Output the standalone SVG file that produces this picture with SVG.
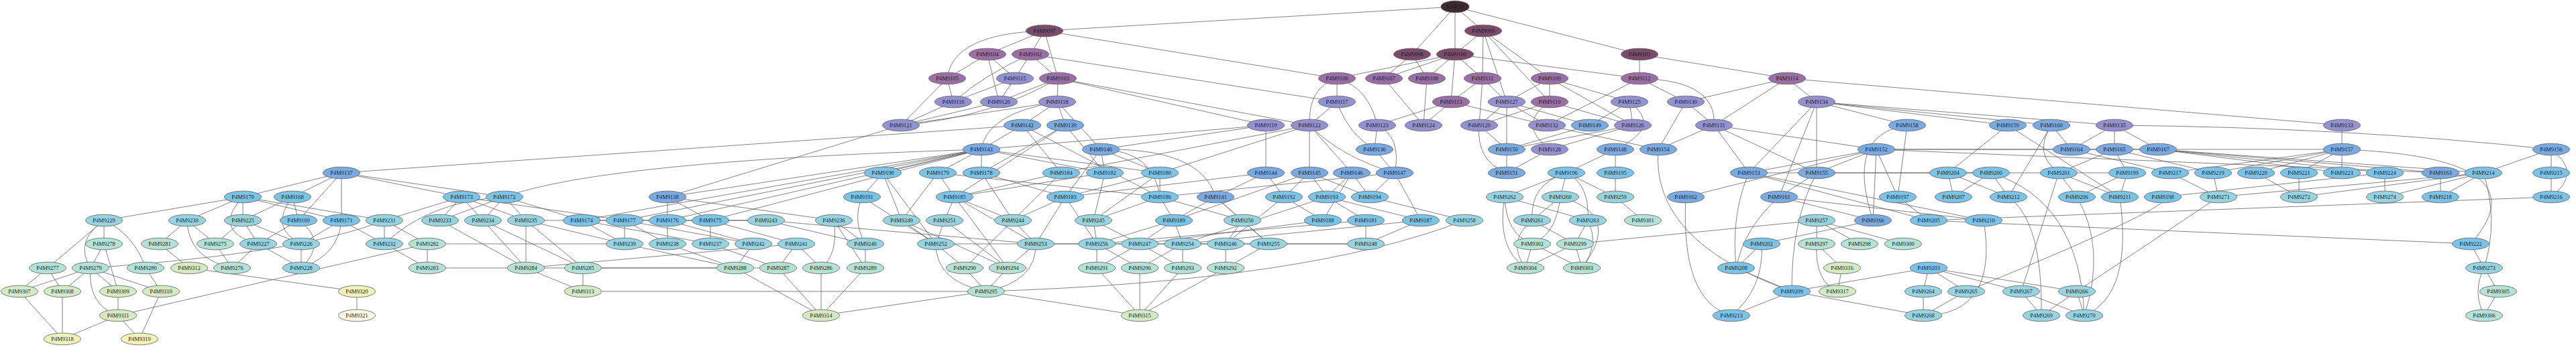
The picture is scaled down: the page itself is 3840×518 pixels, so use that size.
<svg xmlns="http://www.w3.org/2000/svg" width="3840" height="518" viewBox="0 0 3840 518">
<style>
.e line,.e path{stroke:#5a5a5a;stroke-width:0.75;fill:none}
.n ellipse{stroke:#5e5e5e;stroke-width:0.8}
.n text{font-family:"Liberation Serif","Times New Roman",serif;font-size:8.5px;text-anchor:middle;fill:#1c1c1c}
.c0 ellipse{fill:#3e2a31}.c1 ellipse{fill:#7b4b6b}.c2 ellipse{fill:#9a6fa5}.c3 ellipse{fill:#9391cf}.c4 ellipse{fill:#7aaae2}.c5 ellipse{fill:#7cc3e8}.c6 ellipse{fill:#98d4e0}.c7 ellipse{fill:#b5e2d6}.c8 ellipse{fill:#d4eac4}.c9 ellipse{fill:#f0f2ba}.c10 ellipse{fill:#fcfbe8}
</style>
<rect width="3840" height="518" fill="#ffffff"/>
<g id="edges" class="e">
<line x1="2169" y1="10" x2="1557" y2="46"/><line x1="2169" y1="10" x2="2105" y2="81"/><line x1="2169" y1="10" x2="2169" y2="81"/><line x1="2169" y1="10" x2="2211" y2="46"/><line x1="2169" y1="10" x2="2444" y2="81"/>
<line x1="1557" y1="46" x2="1472" y2="81"/><line x1="1557" y1="46" x2="1536" y2="81"/><line x1="1557" y1="46" x2="1577" y2="117"/><path d="M1557,46 Q1420,50 1412,117"/><line x1="1557" y1="46" x2="1993" y2="117"/>
<line x1="2211" y1="46" x2="2169" y2="81"/><line x1="2211" y1="46" x2="2210" y2="117"/><line x1="2211" y1="46" x2="2310" y2="117"/><line x1="2211" y1="46" x2="2310" y2="152"/><line x1="2211" y1="46" x2="2246" y2="152"/>
<line x1="2169" y1="81" x2="1993" y2="117"/><line x1="2169" y1="81" x2="2063" y2="117"/><line x1="2169" y1="81" x2="2127" y2="117"/><line x1="2169" y1="81" x2="2210" y2="117"/><line x1="2169" y1="81" x2="2163" y2="152"/><line x1="2169" y1="81" x2="2444" y2="117"/>
<line x1="2105" y1="81" x2="2063" y2="117"/><line x1="2105" y1="81" x2="2127" y2="117"/><line x1="2444" y1="81" x2="2444" y2="117"/><line x1="2444" y1="81" x2="2664" y2="117"/>
<line x1="1472" y1="81" x2="1412" y2="117"/><line x1="1472" y1="81" x2="1513" y2="117"/><line x1="1472" y1="81" x2="1489" y2="152"/>
<line x1="1536" y1="81" x2="1513" y2="117"/><line x1="1536" y1="81" x2="1577" y2="117"/><path d="M1536,81 Q1470,110 1421,152"/><line x1="1536" y1="81" x2="1993" y2="152"/>
<line x1="1412" y1="117" x2="1421" y2="152"/><line x1="1412" y1="117" x2="1343" y2="187"/><line x1="1513" y1="117" x2="1421" y2="152"/><line x1="1513" y1="117" x2="1489" y2="152"/>
<line x1="1577" y1="117" x2="1576" y2="152"/><line x1="1577" y1="117" x2="1489" y2="152"/><line x1="1577" y1="117" x2="1887" y2="187"/><line x1="1577" y1="117" x2="1952" y2="187"/><path d="M1577,117 Q1480,175 1343,187"/>
<line x1="1421" y1="152" x2="1343" y2="187"/><line x1="1489" y1="152" x2="1343" y2="187"/><line x1="1576" y1="152" x2="1343" y2="187"/>
<line x1="1993" y1="117" x2="1993" y2="152"/><path d="M1993,117 Q1950,130 1952,187"/><path d="M1993,117 Q2040,130 2053,187"/><line x1="1993" y1="152" x2="1952" y2="187"/><path d="M1993,152 Q2010,200 2049,223"/>
<line x1="2063" y1="117" x2="2122" y2="187"/><line x1="2127" y1="117" x2="2122" y2="187"/><line x1="2163" y1="152" x2="2053" y2="187"/><line x1="2163" y1="152" x2="2122" y2="187"/><line x1="2163" y1="152" x2="2306" y2="187"/>
<line x1="2210" y1="117" x2="2163" y2="152"/><line x1="2210" y1="117" x2="2205" y2="187"/><line x1="2210" y1="117" x2="2246" y2="152"/>
<line x1="2246" y1="152" x2="2205" y2="187"/><line x1="2246" y1="152" x2="2246" y2="223"/><line x1="2246" y1="152" x2="2370" y2="187"/><line x1="2246" y1="152" x2="2306" y2="187"/>
<line x1="2310" y1="117" x2="2310" y2="152"/><line x1="2310" y1="117" x2="2246" y2="152"/><line x1="2310" y1="117" x2="2429" y2="152"/><line x1="2310" y1="117" x2="2434" y2="187"/>
<line x1="2444" y1="117" x2="2306" y2="187"/><line x1="2444" y1="117" x2="2513" y2="152"/><path d="M2444,117 Q2560,120 2555,187"/>
<path d="M2310,152 Q2260,185 2310,223"/><line x1="2310" y1="152" x2="2434" y2="187"/><line x1="2310" y1="152" x2="2205" y2="187"/>
<line x1="2429" y1="152" x2="2370" y2="187"/><line x1="2429" y1="152" x2="2434" y2="187"/><path d="M2429,152 Q2480,190 2408,223"/>
<line x1="2513" y1="152" x2="2472" y2="223"/><line x1="2513" y1="152" x2="2555" y2="187"/><line x1="2664" y1="117" x2="2513" y2="152"/><line x1="2664" y1="117" x2="2555" y2="187"/><line x1="2664" y1="117" x2="2708" y2="152"/>
<line x1="2306" y1="187" x2="2472" y2="223"/><line x1="2370" y1="187" x2="2246" y2="223"/><line x1="2434" y1="187" x2="2246" y2="223"/><line x1="2434" y1="187" x2="2310" y2="223"/><line x1="2555" y1="187" x2="2472" y2="223"/>
<line x1="2205" y1="187" x2="2246" y2="223"/><path d="M2205,187 Q2200,240 2246,258"/><line x1="2246" y1="223" x2="2246" y2="258"/><line x1="2310" y1="223" x2="2246" y2="258"/>
<line x1="1952" y1="187" x2="1952" y2="258"/><line x1="1952" y1="187" x2="2015" y2="258"/><path d="M1952,187 Q2000,235 2079,258"/><line x1="2053" y1="187" x2="2049" y2="223"/><path d="M2053,187 Q2090,205 2079,258"/><line x1="2049" y1="223" x2="2079" y2="258"/>
<line x1="1576" y1="152" x2="1524" y2="187"/><line x1="1576" y1="152" x2="1588" y2="187"/><path d="M1576,152 Q1470,170 1463,223"/><line x1="1576" y1="152" x2="1641" y2="223"/>
<line x1="1343" y1="187" x2="995" y2="294"/><line x1="1887" y1="187" x2="1887" y2="258"/><line x1="1887" y1="187" x2="1641" y2="223"/><line x1="1887" y1="187" x2="1463" y2="223"/>
<line x1="1524" y1="187" x2="1463" y2="223"/><line x1="1524" y1="187" x2="1582" y2="258"/><line x1="1588" y1="187" x2="1463" y2="258"/><line x1="1588" y1="187" x2="1647" y2="258"/>
<line x1="1463" y1="223" x2="1463" y2="258"/><line x1="1463" y1="223" x2="1398" y2="258"/><line x1="1463" y1="223" x2="1316" y2="258"/><line x1="1463" y1="223" x2="995" y2="294"/><line x1="1463" y1="223" x2="995" y2="329"/><line x1="1463" y1="223" x2="1059" y2="329"/><line x1="1463" y1="223" x2="867" y2="329"/><line x1="1463" y1="223" x2="931" y2="329"/>
<line x1="1641" y1="223" x2="1647" y2="258"/><line x1="1641" y1="223" x2="1729" y2="258"/><path d="M1641,223 Q1720,225 1729,294"/><path d="M1641,223 Q1790,220 1812,294"/><line x1="1641" y1="223" x2="1588" y2="294"/>
<line x1="509" y1="258" x2="362" y2="294"/><line x1="509" y1="258" x2="436" y2="294"/><line x1="509" y1="258" x2="445" y2="329"/><line x1="509" y1="258" x2="509" y2="329"/><line x1="509" y1="258" x2="688" y2="294"/><line x1="509" y1="258" x2="752" y2="294"/><line x1="509" y1="258" x2="1524" y2="187"/>
<line x1="362" y1="294" x2="155" y2="329"/><line x1="362" y1="294" x2="279" y2="329"/><line x1="362" y1="294" x2="362" y2="329"/><path d="M362,294 Q315,345 385,364"/><line x1="362" y1="294" x2="509" y2="329"/><line x1="362" y1="294" x2="573" y2="329"/>
<line x1="436" y1="294" x2="362" y2="329"/><line x1="436" y1="294" x2="445" y2="329"/><path d="M436,294 Q400,340 449,364"/>
<line x1="362" y1="329" x2="321" y2="364"/><line x1="362" y1="329" x2="385" y2="364"/><line x1="362" y1="329" x2="449" y2="364"/><line x1="445" y1="329" x2="385" y2="364"/><path d="M445,329 Q490,360 449,400"/>
<line x1="509" y1="329" x2="449" y2="364"/><path d="M509,329 Q505,380 449,400"/><line x1="509" y1="329" x2="573" y2="364"/>
<line x1="573" y1="329" x2="573" y2="364"/><line x1="573" y1="329" x2="637" y2="364"/><line x1="573" y1="329" x2="688" y2="294"/><path d="M573,364 Q640,300 752,294"/><line x1="573" y1="364" x2="637" y2="400"/>
<line x1="155" y1="329" x2="155" y2="364"/><line x1="155" y1="329" x2="71" y2="400"/><path d="M155,329 Q110,360 135,400"/><path d="M155,329 Q200,350 217,400"/>
<line x1="279" y1="329" x2="238" y2="364"/><line x1="279" y1="329" x2="321" y2="364"/><path d="M279,329 Q280,385 346,400"/>
<line x1="155" y1="364" x2="135" y2="400"/><line x1="155" y1="364" x2="176" y2="435"/><path d="M135,400 Q450,378 573,329"/>
<line x1="71" y1="400" x2="29" y2="435"/><line x1="71" y1="400" x2="93" y2="435"/><line x1="135" y1="400" x2="29" y2="435"/><line x1="135" y1="400" x2="93" y2="435"/><line x1="135" y1="400" x2="176" y2="435"/><line x1="135" y1="400" x2="240" y2="435"/><path d="M135,400 Q130,455 176,471"/>
<line x1="217" y1="400" x2="240" y2="435"/><line x1="238" y1="364" x2="282" y2="400"/><line x1="282" y1="400" x2="532" y2="435"/>
<line x1="29" y1="435" x2="93" y2="506"/><line x1="93" y1="435" x2="93" y2="506"/><line x1="176" y1="435" x2="176" y2="471"/><line x1="240" y1="435" x2="208" y2="506"/><line x1="176" y1="471" x2="93" y2="506"/><line x1="176" y1="471" x2="208" y2="506"/><line x1="176" y1="471" x2="637" y2="364"/>
<line x1="321" y1="364" x2="346" y2="400"/><line x1="385" y1="364" x2="346" y2="400"/><line x1="385" y1="364" x2="449" y2="400"/><line x1="449" y1="364" x2="449" y2="400"/><line x1="637" y1="364" x2="637" y2="400"/><line x1="532" y1="435" x2="532" y2="471"/>
<line x1="688" y1="294" x2="656" y2="329"/><line x1="688" y1="294" x2="720" y2="329"/><line x1="688" y1="294" x2="784" y2="329"/><line x1="752" y1="294" x2="656" y2="329"/><line x1="752" y1="294" x2="720" y2="329"/><line x1="752" y1="294" x2="784" y2="329"/>
<line x1="656" y1="329" x2="784" y2="400"/><line x1="720" y1="329" x2="784" y2="400"/><line x1="720" y1="329" x2="869" y2="400"/><line x1="784" y1="329" x2="784" y2="400"/><line x1="784" y1="329" x2="869" y2="400"/>
<line x1="637" y1="364" x2="931" y2="364"/><line x1="637" y1="400" x2="1096" y2="400"/><line x1="784" y1="400" x2="1187" y2="364"/><line x1="869" y1="400" x2="1160" y2="400"/>
<line x1="784" y1="400" x2="869" y2="435"/><line x1="869" y1="400" x2="869" y2="435"/><line x1="869" y1="435" x2="1470" y2="435"/><line x1="1224" y1="471" x2="1470" y2="435"/>
<line x1="867" y1="329" x2="931" y2="364"/><line x1="931" y1="329" x2="931" y2="364"/><line x1="784" y1="329" x2="1142" y2="329"/>
<line x1="995" y1="294" x2="995" y2="329"/><line x1="995" y1="294" x2="1059" y2="329"/><line x1="995" y1="329" x2="995" y2="364"/><line x1="1059" y1="329" x2="1059" y2="364"/>
<line x1="995" y1="364" x2="1096" y2="400"/><line x1="1059" y1="364" x2="1160" y2="400"/><line x1="1123" y1="364" x2="1096" y2="400"/><line x1="1187" y1="364" x2="1160" y2="400"/><line x1="1187" y1="364" x2="1224" y2="400"/>
<path d="M1243,329 Q1250,380 1224,400"/><line x1="1243" y1="329" x2="1290" y2="400"/>
<line x1="1096" y1="400" x2="1224" y2="471"/><line x1="1160" y1="400" x2="1224" y2="471"/><line x1="1224" y1="400" x2="1224" y2="471"/><line x1="1290" y1="400" x2="1224" y2="471"/><line x1="1290" y1="364" x2="1290" y2="400"/>
<line x1="1316" y1="258" x2="1285" y2="294"/><line x1="1316" y1="258" x2="1344" y2="329"/><line x1="1316" y1="258" x2="1395" y2="364"/><line x1="1398" y1="258" x2="1423" y2="294"/><line x1="1398" y1="258" x2="1344" y2="329"/>
<line x1="1463" y1="258" x2="1510" y2="329"/><line x1="1582" y1="258" x2="1510" y2="329"/><line x1="1463" y1="258" x2="1588" y2="294"/>
<line x1="1423" y1="294" x2="1408" y2="329"/><line x1="1423" y1="294" x2="1510" y2="329"/><line x1="1423" y1="294" x2="1544" y2="364"/><line x1="1423" y1="294" x2="1502" y2="400"/>
<line x1="1588" y1="294" x2="1544" y2="364"/><line x1="1588" y1="294" x2="1510" y2="329"/>
<path d="M1285,294 Q1270,330 1290,364"/><line x1="1285" y1="294" x2="1395" y2="364"/>
<line x1="1344" y1="329" x2="1395" y2="364"/><line x1="1344" y1="329" x2="1502" y2="400"/><line x1="1408" y1="329" x2="1395" y2="364"/><line x1="1408" y1="329" x2="1502" y2="400"/>
<line x1="1510" y1="329" x2="1544" y2="364"/><line x1="1510" y1="329" x2="1438" y2="400"/><line x1="1395" y1="364" x2="1438" y2="400"/><path d="M1395,364 Q1395,420 1470,435"/>
<line x1="1544" y1="364" x2="1502" y2="400"/><path d="M1544,364 Q1545,420 1470,435"/><line x1="1438" y1="400" x2="1470" y2="435"/><line x1="1502" y1="400" x2="1470" y2="435"/>
<line x1="1470" y1="435" x2="1699" y2="471"/><path d="M1470,435 Q1950,420 2183,329"/>
<line x1="1887" y1="258" x2="1914" y2="294"/><line x1="1647" y1="258" x2="1630" y2="329"/><line x1="1729" y1="258" x2="1729" y2="294"/><line x1="1729" y1="258" x2="1630" y2="329"/>
<line x1="1729" y1="294" x2="1750" y2="329"/><line x1="1812" y1="294" x2="1750" y2="329"/><line x1="1750" y1="329" x2="1699" y2="364"/><line x1="1750" y1="329" x2="1763" y2="364"/><line x1="1750" y1="329" x2="1635" y2="364"/>
<line x1="1852" y1="329" x2="1827" y2="364"/><line x1="1852" y1="329" x2="1891" y2="364"/>
<line x1="1635" y1="364" x2="1635" y2="400"/><line x1="1635" y1="364" x2="1699" y2="400"/><line x1="1699" y1="364" x2="1635" y2="400"/><line x1="1699" y1="364" x2="1763" y2="400"/><line x1="1763" y1="364" x2="1763" y2="400"/><line x1="1763" y1="364" x2="1699" y2="400"/><line x1="1827" y1="364" x2="1827" y2="400"/><line x1="1891" y1="364" x2="1827" y2="400"/>
<line x1="1635" y1="400" x2="1699" y2="471"/><line x1="1699" y1="400" x2="1699" y2="471"/><line x1="1763" y1="400" x2="1699" y2="471"/><line x1="1827" y1="400" x2="1699" y2="471"/>
<line x1="1952" y1="258" x2="1978" y2="294"/><line x1="2015" y1="258" x2="1978" y2="294"/><line x1="2015" y1="258" x2="2042" y2="294"/><line x1="1952" y1="258" x2="2042" y2="294"/><line x1="2079" y1="258" x2="2042" y2="294"/>
<line x1="2042" y1="294" x2="2183" y2="329"/><line x1="1978" y1="294" x2="2118" y2="329"/><line x1="2036" y1="329" x2="2036" y2="364"/><line x1="2118" y1="329" x2="2036" y2="364"/><line x1="1914" y1="294" x2="1972" y2="329"/><line x1="1978" y1="294" x2="2036" y2="329"/>
<line x1="2408" y1="223" x2="2335" y2="258"/><line x1="2408" y1="223" x2="2408" y2="258"/>
<line x1="2335" y1="258" x2="2243" y2="294"/><line x1="2335" y1="258" x2="2326" y2="294"/><line x1="2335" y1="258" x2="2408" y2="294"/><path d="M2335,258 Q2280,275 2284,329"/><path d="M2335,258 Q2370,275 2367,329"/><line x1="2408" y1="258" x2="2408" y2="294"/>
<line x1="2243" y1="294" x2="2367" y2="329"/><path d="M2243,294 Q2245,350 2284,364"/><path d="M2243,294 Q2230,370 2274,400"/>
<line x1="2326" y1="294" x2="2284" y2="329"/><path d="M2326,294 Q2320,350 2284,364"/><path d="M2326,294 Q2420,320 2358,400"/><line x1="2408" y1="294" x2="2449" y2="329"/>
<line x1="2284" y1="329" x2="2348" y2="364"/><path d="M2284,329 Q2245,360 2274,400"/><line x1="2367" y1="329" x2="2348" y2="364"/><path d="M2367,329 Q2385,365 2358,400"/>
<line x1="2284" y1="364" x2="2274" y2="400"/><line x1="2284" y1="364" x2="2358" y2="400"/><line x1="2348" y1="364" x2="2274" y2="400"/><line x1="2348" y1="364" x2="2358" y2="400"/><line x1="2348" y1="364" x2="2708" y2="329"/>
<path d="M2513,294 Q2505,450 2581,471"/><path d="M2472,223 Q2460,360 2671,435"/><line x1="2513" y1="294" x2="2797" y2="223"/>
<line x1="2708" y1="152" x2="2607" y2="258"/><line x1="2708" y1="152" x2="2708" y2="258"/><line x1="2708" y1="152" x2="2652" y2="294"/><line x1="2708" y1="152" x2="3152" y2="187"/><line x1="2708" y1="152" x2="2993" y2="187"/><line x1="2708" y1="152" x2="3058" y2="187"/><line x1="2708" y1="152" x2="2843" y2="187"/>
<line x1="2555" y1="187" x2="2607" y2="258"/><line x1="2555" y1="187" x2="2708" y2="258"/><line x1="2555" y1="187" x2="2797" y2="223"/><line x1="2664" y1="117" x2="3491" y2="187"/>
<line x1="2843" y1="187" x2="2829" y2="294"/><path d="M2843,187 Q2750,200 2792,329"/>
<line x1="2797" y1="223" x2="2607" y2="258"/><line x1="2797" y1="223" x2="2708" y2="258"/><line x1="2797" y1="223" x2="2829" y2="294"/><line x1="2797" y1="223" x2="2792" y2="329"/><line x1="2797" y1="223" x2="3638" y2="258"/><line x1="2797" y1="223" x2="3491" y2="223"/><line x1="2797" y1="223" x2="3217" y2="223"/>
<path d="M2607,258 Q2580,320 2588,400"/><line x1="2607" y1="258" x2="2875" y2="329"/><line x1="2607" y1="258" x2="2968" y2="258"/><line x1="2607" y1="258" x2="2957" y2="329"/>
<line x1="2708" y1="258" x2="2652" y2="294"/><path d="M2708,258 Q2670,330 2671,435"/><line x1="2708" y1="258" x2="3171" y2="258"/>
<path d="M2652,294 Q2600,340 2588,400"/><line x1="2652" y1="294" x2="2792" y2="329"/><line x1="2652" y1="294" x2="2957" y2="329"/>
<line x1="2708" y1="329" x2="2708" y2="364"/><line x1="2708" y1="329" x2="2772" y2="364"/><line x1="2708" y1="329" x2="2837" y2="364"/><line x1="2708" y1="364" x2="2746" y2="400"/><path d="M2708,364 Q2705,420 2739,435"/><line x1="2746" y1="400" x2="2739" y2="435"/>
<line x1="2626" y1="364" x2="2588" y2="400"/><path d="M2626,364 Q2630,430 2581,471"/><line x1="2626" y1="364" x2="2792" y2="329"/>
<line x1="2588" y1="400" x2="2671" y2="435"/><line x1="2671" y1="435" x2="2581" y2="471"/><line x1="2671" y1="435" x2="2875" y2="400"/><line x1="2671" y1="435" x2="2867" y2="471"/>
<line x1="2829" y1="294" x2="2875" y2="329"/><line x1="2875" y1="400" x2="2867" y2="435"/><line x1="2867" y1="435" x2="2867" y2="471"/>
<line x1="2993" y1="187" x2="2904" y2="258"/><line x1="2993" y1="187" x2="3160" y2="294"/><line x1="3058" y1="187" x2="2994" y2="294"/><path d="M3058,187 Q3030,230 3069,258"/><line x1="3058" y1="187" x2="3088" y2="223"/>
<line x1="3152" y1="187" x2="3152" y2="223"/><line x1="3152" y1="187" x2="3088" y2="223"/><line x1="3152" y1="187" x2="3217" y2="223"/><line x1="3152" y1="223" x2="3171" y2="258"/><line x1="3152" y1="223" x2="3069" y2="258"/><line x1="3152" y1="223" x2="3299" y2="258"/><line x1="3088" y1="223" x2="3235" y2="258"/>
<line x1="2904" y1="258" x2="2912" y2="294"/><line x1="2904" y1="258" x2="2994" y2="294"/><line x1="2968" y1="258" x2="2912" y2="294"/><line x1="2968" y1="258" x2="2994" y2="294"/><path d="M2968,258 Q3100,300 3107,471"/>
<line x1="3069" y1="258" x2="3096" y2="294"/><line x1="3069" y1="258" x2="3160" y2="294"/><line x1="3069" y1="258" x2="3013" y2="435"/><line x1="3171" y1="258" x2="3096" y2="294"/><line x1="3171" y1="258" x2="3160" y2="294"/>
<path d="M2994,294 Q3045,330 3043,471"/><path d="M3096,294 Q3140,370 3107,471"/><path d="M3160,294 Q3180,440 3107,471"/><path d="M2957,329 Q2980,470 2867,471"/>
<line x1="2875" y1="400" x2="2931" y2="435"/><line x1="2875" y1="400" x2="3013" y2="435"/><line x1="2875" y1="400" x2="3096" y2="435"/><line x1="2931" y1="435" x2="2867" y2="471"/><path d="M2931,435 Q3260,300 3224,294"/>
<line x1="3013" y1="435" x2="3043" y2="471"/><line x1="3013" y1="435" x2="3107" y2="471"/><line x1="3096" y1="435" x2="3043" y2="471"/><line x1="3096" y1="435" x2="3107" y2="471"/><line x1="3096" y1="435" x2="3307" y2="294"/>
<line x1="3491" y1="187" x2="3491" y2="223"/><line x1="3491" y1="223" x2="3235" y2="258"/><line x1="3491" y1="223" x2="3299" y2="258"/><line x1="3491" y1="223" x2="3363" y2="258"/><line x1="3491" y1="223" x2="3427" y2="258"/><line x1="3491" y1="223" x2="3491" y2="258"/>
<line x1="3217" y1="223" x2="3491" y2="258"/><line x1="3217" y1="223" x2="3555" y2="258"/><line x1="3217" y1="223" x2="3638" y2="258"/><line x1="3217" y1="223" x2="3702" y2="258"/>
<line x1="3235" y1="258" x2="3307" y2="294"/><line x1="3299" y1="258" x2="3307" y2="294"/><line x1="3363" y1="258" x2="3427" y2="294"/><line x1="3427" y1="258" x2="3427" y2="294"/><line x1="3224" y1="294" x2="3555" y2="258"/>
<line x1="3803" y1="223" x2="3803" y2="258"/><path d="M3803,223 Q3850,258 3803,294"/><line x1="3803" y1="223" x2="3702" y2="258"/><path d="M3803,223 Q3500,190 3152,187"/><line x1="3803" y1="258" x2="3803" y2="294"/>
<line x1="3555" y1="258" x2="3555" y2="294"/><line x1="3638" y1="258" x2="3638" y2="294"/><line x1="3702" y1="258" x2="3638" y2="294"/><line x1="3702" y1="258" x2="3555" y2="294"/><path d="M3702,258 Q3725,330 3703,400"/>
<line x1="3803" y1="294" x2="2875" y2="329"/><line x1="3683" y1="364" x2="3703" y2="400"/><line x1="3683" y1="364" x2="2875" y2="329"/><path d="M3683,364 C3740,300 3740,232 3491,223"/>
<line x1="3703" y1="400" x2="3724" y2="435"/><path d="M3703,400 Q3685,435 3703,471"/><line x1="3724" y1="435" x2="3703" y2="471"/>
<line x1="3307" y1="294" x2="3702" y2="258"/><line x1="3427" y1="294" x2="3702" y2="258"/>
<line x1="867" y1="329" x2="1142" y2="329"/><line x1="867" y1="329" x2="1059" y2="364"/><line x1="931" y1="329" x2="995" y2="364"/><line x1="931" y1="329" x2="1123" y2="364"/><line x1="995" y1="329" x2="1123" y2="364"/><line x1="1059" y1="329" x2="1187" y2="364"/>
<line x1="1142" y1="329" x2="1544" y2="364"/><line x1="1142" y1="329" x2="1290" y2="364"/><line x1="1243" y1="329" x2="1290" y2="364"/><line x1="995" y1="294" x2="1243" y2="329"/>
<line x1="1398" y1="258" x2="1729" y2="294"/><line x1="1582" y1="258" x2="1423" y2="294"/><line x1="1647" y1="258" x2="1423" y2="294"/><line x1="1729" y1="258" x2="1588" y2="294"/><line x1="1729" y1="294" x2="1630" y2="329"/>
<line x1="1812" y1="294" x2="1852" y2="329"/><line x1="1812" y1="294" x2="1891" y2="364"/><line x1="1729" y1="294" x2="1852" y2="329"/><line x1="1588" y1="294" x2="1635" y2="364"/><line x1="1630" y1="329" x2="1635" y2="364"/><line x1="1630" y1="329" x2="1699" y2="364"/>
<line x1="1914" y1="294" x2="1827" y2="364"/><line x1="1978" y1="294" x2="1763" y2="364"/><line x1="1972" y1="329" x2="1699" y2="364"/><line x1="2036" y1="329" x2="1635" y2="364"/><line x1="2118" y1="329" x2="1763" y2="364"/><line x1="2036" y1="364" x2="1544" y2="364"/><line x1="2036" y1="364" x2="1395" y2="364"/>
<line x1="1952" y1="258" x2="1750" y2="329"/><line x1="2079" y1="258" x2="1729" y2="294"/><line x1="2015" y1="258" x2="1972" y2="329"/><line x1="1952" y1="258" x2="1914" y2="294"/><line x1="2079" y1="258" x2="2118" y2="329"/>
<line x1="1952" y1="187" x2="1582" y2="258"/><line x1="1952" y1="187" x2="1729" y2="258"/><line x1="1887" y1="258" x2="1812" y2="294"/><line x1="1887" y1="258" x2="1588" y2="294"/><line x1="1524" y1="187" x2="1729" y2="294"/><line x1="1588" y1="187" x2="1423" y2="294"/>
<line x1="1463" y1="223" x2="1647" y2="258"/><line x1="1463" y1="223" x2="1729" y2="258"/><path d="M752,294 Q900,240 1463,223"/><line x1="688" y1="294" x2="931" y2="329"/><line x1="752" y1="294" x2="867" y2="329"/><line x1="784" y1="329" x2="931" y2="364"/><line x1="931" y1="364" x2="1096" y2="400"/>
</g>
<g id="KNP59" class="n c0"><ellipse cx="2169" cy="10" rx="21" ry="8.8"/><text x="2169" y="13">KNP59</text></g>
<g id="P4M9097" class="n c1"><ellipse cx="1557" cy="46" rx="27.5" ry="8.8"/><text x="1557" y="49">P4M9097</text></g>
<g id="P4M9099" class="n c1"><ellipse cx="2211" cy="46" rx="27.5" ry="8.8"/><text x="2211" y="49">P4M9099</text></g>
<g id="P4M9098" class="n c1"><ellipse cx="2105" cy="81" rx="27.5" ry="8.8"/><text x="2105" y="84">P4M9098</text></g>
<g id="P4M9100" class="n c1"><ellipse cx="2169" cy="81" rx="27.5" ry="8.8"/><text x="2169" y="84">P4M9100</text></g>
<g id="P4M9101" class="n c1"><ellipse cx="2444" cy="81" rx="27.5" ry="8.8"/><text x="2444" y="84">P4M9101</text></g>
<g id="P4M9104" class="n c2"><ellipse cx="1472" cy="81" rx="27.5" ry="8.8"/><text x="1472" y="84">P4M9104</text></g>
<g id="P4M9102" class="n c2"><ellipse cx="1536" cy="81" rx="27.5" ry="8.8"/><text x="1536" y="84">P4M9102</text></g>
<g id="P4M9105" class="n c2"><ellipse cx="1412" cy="117" rx="27.5" ry="8.8"/><text x="1412" y="120">P4M9105</text></g>
<g id="P4M9103" class="n c2"><ellipse cx="1577" cy="117" rx="27.5" ry="8.8"/><text x="1577" y="120">P4M9103</text></g>
<g id="P4M9106" class="n c2"><ellipse cx="1993" cy="117" rx="27.5" ry="8.8"/><text x="1993" y="120">P4M9106</text></g>
<g id="P4M9107" class="n c2"><ellipse cx="2063" cy="117" rx="27.5" ry="8.8"/><text x="2063" y="120">P4M9107</text></g>
<g id="P4M9108" class="n c2"><ellipse cx="2127" cy="117" rx="27.5" ry="8.8"/><text x="2127" y="120">P4M9108</text></g>
<g id="P4M9111" class="n c2"><ellipse cx="2210" cy="117" rx="27.5" ry="8.8"/><text x="2210" y="120">P4M9111</text></g>
<g id="P4M9109" class="n c2"><ellipse cx="2310" cy="117" rx="27.5" ry="8.8"/><text x="2310" y="120">P4M9109</text></g>
<g id="P4M9112" class="n c2"><ellipse cx="2444" cy="117" rx="27.5" ry="8.8"/><text x="2444" y="120">P4M9112</text></g>
<g id="P4M9114" class="n c2"><ellipse cx="2664" cy="117" rx="27.5" ry="8.8"/><text x="2664" y="120">P4M9114</text></g>
<g id="P4M9113" class="n c2"><ellipse cx="2163" cy="152" rx="27.5" ry="8.8"/><text x="2163" y="155">P4M9113</text></g>
<g id="P4M9110" class="n c2"><ellipse cx="2310" cy="152" rx="27.5" ry="8.8"/><text x="2310" y="155">P4M9110</text></g>
<g id="P4M9115" class="n c3"><ellipse cx="1513" cy="117" rx="27.5" ry="8.8"/><text x="1513" y="120">P4M9115</text></g>
<g id="P4M9116" class="n c3"><ellipse cx="1421" cy="152" rx="27.5" ry="8.8"/><text x="1421" y="155">P4M9116</text></g>
<g id="P4M9120" class="n c3"><ellipse cx="1489" cy="152" rx="27.5" ry="8.8"/><text x="1489" y="155">P4M9120</text></g>
<g id="P4M9118" class="n c3"><ellipse cx="1576" cy="152" rx="27.5" ry="8.8"/><text x="1576" y="155">P4M9118</text></g>
<g id="P4M9117" class="n c3"><ellipse cx="1993" cy="152" rx="27.5" ry="8.8"/><text x="1993" y="155">P4M9117</text></g>
<g id="P4M9127" class="n c3"><ellipse cx="2246" cy="152" rx="27.5" ry="8.8"/><text x="2246" y="155">P4M9127</text></g>
<g id="P4M9125" class="n c3"><ellipse cx="2429" cy="152" rx="27.5" ry="8.8"/><text x="2429" y="155">P4M9125</text></g>
<g id="P4M9130" class="n c3"><ellipse cx="2513" cy="152" rx="27.5" ry="8.8"/><text x="2513" y="155">P4M9130</text></g>
<g id="P4M9134" class="n c3"><ellipse cx="2708" cy="152" rx="27.5" ry="8.8"/><text x="2708" y="155">P4M9134</text></g>
<g id="P4M9121" class="n c3"><ellipse cx="1343" cy="187" rx="27.5" ry="8.8"/><text x="1343" y="190">P4M9121</text></g>
<g id="P4M9119" class="n c3"><ellipse cx="1887" cy="187" rx="27.5" ry="8.8"/><text x="1887" y="190">P4M9119</text></g>
<g id="P4M9122" class="n c3"><ellipse cx="1952" cy="187" rx="27.5" ry="8.8"/><text x="1952" y="190">P4M9122</text></g>
<g id="P4M9123" class="n c3"><ellipse cx="2053" cy="187" rx="27.5" ry="8.8"/><text x="2053" y="190">P4M9123</text></g>
<g id="P4M9124" class="n c3"><ellipse cx="2122" cy="187" rx="27.5" ry="8.8"/><text x="2122" y="190">P4M9124</text></g>
<g id="P4M9129" class="n c3"><ellipse cx="2205" cy="187" rx="27.5" ry="8.8"/><text x="2205" y="190">P4M9129</text></g>
<g id="P4M9132" class="n c3"><ellipse cx="2306" cy="187" rx="27.5" ry="8.8"/><text x="2306" y="190">P4M9132</text></g>
<g id="P4M9126" class="n c3"><ellipse cx="2434" cy="187" rx="27.5" ry="8.8"/><text x="2434" y="190">P4M9126</text></g>
<g id="P4M9131" class="n c3"><ellipse cx="2555" cy="187" rx="27.5" ry="8.8"/><text x="2555" y="190">P4M9131</text></g>
<g id="P4M9128" class="n c3"><ellipse cx="2310" cy="223" rx="27.5" ry="8.8"/><text x="2310" y="226">P4M9128</text></g>
<g id="P4M9135" class="n c3"><ellipse cx="3152" cy="187" rx="27.5" ry="8.8"/><text x="3152" y="190">P4M9135</text></g>
<g id="P4M9133" class="n c3"><ellipse cx="3491" cy="187" rx="27.5" ry="8.8"/><text x="3491" y="190">P4M9133</text></g>
<g id="P4M9142" class="n c4"><ellipse cx="1524" cy="187" rx="27.5" ry="8.8"/><text x="1524" y="190">P4M9142</text></g>
<g id="P4M9139" class="n c4"><ellipse cx="1588" cy="187" rx="27.5" ry="8.8"/><text x="1588" y="190">P4M9139</text></g>
<g id="P4M9149" class="n c4"><ellipse cx="2370" cy="187" rx="27.5" ry="8.8"/><text x="2370" y="190">P4M9149</text></g>
<g id="P4M9158" class="n c4"><ellipse cx="2843" cy="187" rx="27.5" ry="8.8"/><text x="2843" y="190">P4M9158</text></g>
<g id="P4M9159" class="n c4"><ellipse cx="2993" cy="187" rx="27.5" ry="8.8"/><text x="2993" y="190">P4M9159</text></g>
<g id="P4M9160" class="n c4"><ellipse cx="3058" cy="187" rx="27.5" ry="8.8"/><text x="3058" y="190">P4M9160</text></g>
<g id="P4M9143" class="n c4"><ellipse cx="1463" cy="223" rx="27.5" ry="8.8"/><text x="1463" y="226">P4M9143</text></g>
<g id="P4M9140" class="n c4"><ellipse cx="1641" cy="223" rx="27.5" ry="8.8"/><text x="1641" y="226">P4M9140</text></g>
<g id="P4M9136" class="n c4"><ellipse cx="2049" cy="223" rx="27.5" ry="8.8"/><text x="2049" y="226">P4M9136</text></g>
<g id="P4M9150" class="n c4"><ellipse cx="2246" cy="223" rx="27.5" ry="8.8"/><text x="2246" y="226">P4M9150</text></g>
<g id="P4M9148" class="n c4"><ellipse cx="2408" cy="223" rx="27.5" ry="8.8"/><text x="2408" y="226">P4M9148</text></g>
<g id="P4M9154" class="n c4"><ellipse cx="2472" cy="223" rx="27.5" ry="8.8"/><text x="2472" y="226">P4M9154</text></g>
<g id="P4M9152" class="n c4"><ellipse cx="2797" cy="223" rx="27.5" ry="8.8"/><text x="2797" y="226">P4M9152</text></g>
<g id="P4M9164" class="n c4"><ellipse cx="3088" cy="223" rx="27.5" ry="8.8"/><text x="3088" y="226">P4M9164</text></g>
<g id="P4M9165" class="n c4"><ellipse cx="3152" cy="223" rx="27.5" ry="8.8"/><text x="3152" y="226">P4M9165</text></g>
<g id="P4M9167" class="n c4"><ellipse cx="3217" cy="223" rx="27.5" ry="8.8"/><text x="3217" y="226">P4M9167</text></g>
<g id="P4M9157" class="n c4"><ellipse cx="3491" cy="223" rx="27.5" ry="8.8"/><text x="3491" y="226">P4M9157</text></g>
<g id="P4M9156" class="n c4"><ellipse cx="3803" cy="223" rx="27.5" ry="8.8"/><text x="3803" y="226">P4M9156</text></g>
<g id="P4M9137" class="n c4"><ellipse cx="509" cy="258" rx="27.5" ry="8.8"/><text x="509" y="261">P4M9137</text></g>
<g id="P4M9144" class="n c4"><ellipse cx="1887" cy="258" rx="27.5" ry="8.8"/><text x="1887" y="261">P4M9144</text></g>
<g id="P4M9145" class="n c4"><ellipse cx="1952" cy="258" rx="27.5" ry="8.8"/><text x="1952" y="261">P4M9145</text></g>
<g id="P4M9146" class="n c4"><ellipse cx="2015" cy="258" rx="27.5" ry="8.8"/><text x="2015" y="261">P4M9146</text></g>
<g id="P4M9147" class="n c4"><ellipse cx="2079" cy="258" rx="27.5" ry="8.8"/><text x="2079" y="261">P4M9147</text></g>
<g id="P4M9151" class="n c4"><ellipse cx="2246" cy="258" rx="27.5" ry="8.8"/><text x="2246" y="261">P4M9151</text></g>
<g id="P4M9153" class="n c4"><ellipse cx="2607" cy="258" rx="27.5" ry="8.8"/><text x="2607" y="261">P4M9153</text></g>
<g id="P4M9155" class="n c4"><ellipse cx="2708" cy="258" rx="27.5" ry="8.8"/><text x="2708" y="261">P4M9155</text></g>
<g id="P4M9163" class="n c4"><ellipse cx="3638" cy="258" rx="27.5" ry="8.8"/><text x="3638" y="261">P4M9163</text></g>
<g id="P4M9138" class="n c4"><ellipse cx="995" cy="294" rx="27.5" ry="8.8"/><text x="995" y="297">P4M9138</text></g>
<g id="P4M9141" class="n c4"><ellipse cx="1812" cy="294" rx="27.5" ry="8.8"/><text x="1812" y="297">P4M9141</text></g>
<g id="P4M9162" class="n c4"><ellipse cx="2513" cy="294" rx="27.5" ry="8.8"/><text x="2513" y="297">P4M9162</text></g>
<g id="P4M9161" class="n c4"><ellipse cx="2652" cy="294" rx="27.5" ry="8.8"/><text x="2652" y="297">P4M9161</text></g>
<g id="P4M9166" class="n c4"><ellipse cx="2792" cy="329" rx="27.5" ry="8.8"/><text x="2792" y="332">P4M9166</text></g>
<g id="P4M9170" class="n c5"><ellipse cx="362" cy="294" rx="27.5" ry="8.8"/><text x="362" y="297">P4M9170</text></g>
<g id="P4M9168" class="n c5"><ellipse cx="436" cy="294" rx="27.5" ry="8.8"/><text x="436" y="297">P4M9168</text></g>
<g id="P4M9173" class="n c5"><ellipse cx="688" cy="294" rx="27.5" ry="8.8"/><text x="688" y="297">P4M9173</text></g>
<g id="P4M9172" class="n c5"><ellipse cx="752" cy="294" rx="27.5" ry="8.8"/><text x="752" y="297">P4M9172</text></g>
<g id="P4M9191" class="n c5"><ellipse cx="1285" cy="294" rx="27.5" ry="8.8"/><text x="1285" y="297">P4M9191</text></g>
<g id="P4M9185" class="n c5"><ellipse cx="1423" cy="294" rx="27.5" ry="8.8"/><text x="1423" y="297">P4M9185</text></g>
<g id="P4M9183" class="n c5"><ellipse cx="1588" cy="294" rx="27.5" ry="8.8"/><text x="1588" y="297">P4M9183</text></g>
<g id="P4M9186" class="n c5"><ellipse cx="1729" cy="294" rx="27.5" ry="8.8"/><text x="1729" y="297">P4M9186</text></g>
<g id="P4M9192" class="n c5"><ellipse cx="1914" cy="294" rx="27.5" ry="8.8"/><text x="1914" y="297">P4M9192</text></g>
<g id="P4M9193" class="n c5"><ellipse cx="1978" cy="294" rx="27.5" ry="8.8"/><text x="1978" y="297">P4M9193</text></g>
<g id="P4M9194" class="n c5"><ellipse cx="2042" cy="294" rx="27.5" ry="8.8"/><text x="2042" y="297">P4M9194</text></g>
<g id="P4M9197" class="n c5"><ellipse cx="2829" cy="294" rx="27.5" ry="8.8"/><text x="2829" y="297">P4M9197</text></g>
<g id="P4M9207" class="n c5"><ellipse cx="2912" cy="294" rx="27.5" ry="8.8"/><text x="2912" y="297">P4M9207</text></g>
<g id="P4M9212" class="n c5"><ellipse cx="2994" cy="294" rx="27.5" ry="8.8"/><text x="2994" y="297">P4M9212</text></g>
<g id="P4M9206" class="n c5"><ellipse cx="3096" cy="294" rx="27.5" ry="8.8"/><text x="3096" y="297">P4M9206</text></g>
<g id="P4M9211" class="n c5"><ellipse cx="3160" cy="294" rx="27.5" ry="8.8"/><text x="3160" y="297">P4M9211</text></g>
<g id="P4M9198" class="n c5"><ellipse cx="3224" cy="294" rx="27.5" ry="8.8"/><text x="3224" y="297">P4M9198</text></g>
<g id="P4M9218" class="n c5"><ellipse cx="3638" cy="294" rx="27.5" ry="8.8"/><text x="3638" y="297">P4M9218</text></g>
<g id="P4M9216" class="n c5"><ellipse cx="3803" cy="294" rx="27.5" ry="8.8"/><text x="3803" y="297">P4M9216</text></g>
<g id="P4M9190" class="n c5"><ellipse cx="1316" cy="258" rx="27.5" ry="8.8"/><text x="1316" y="261">P4M9190</text></g>
<g id="P4M9179" class="n c5"><ellipse cx="1398" cy="258" rx="27.5" ry="8.8"/><text x="1398" y="261">P4M9179</text></g>
<g id="P4M9178" class="n c5"><ellipse cx="1463" cy="258" rx="27.5" ry="8.8"/><text x="1463" y="261">P4M9178</text></g>
<g id="P4M9184" class="n c5"><ellipse cx="1582" cy="258" rx="27.5" ry="8.8"/><text x="1582" y="261">P4M9184</text></g>
<g id="P4M9182" class="n c5"><ellipse cx="1647" cy="258" rx="27.5" ry="8.8"/><text x="1647" y="261">P4M9182</text></g>
<g id="P4M9180" class="n c5"><ellipse cx="1729" cy="258" rx="27.5" ry="8.8"/><text x="1729" y="261">P4M9180</text></g>
<g id="P4M9196" class="n c5"><ellipse cx="2335" cy="258" rx="27.5" ry="8.8"/><text x="2335" y="261">P4M9196</text></g>
<g id="P4M9195" class="n c5"><ellipse cx="2408" cy="258" rx="27.5" ry="8.8"/><text x="2408" y="261">P4M9195</text></g>
<g id="P4M9204" class="n c5"><ellipse cx="2904" cy="258" rx="27.5" ry="8.8"/><text x="2904" y="261">P4M9204</text></g>
<g id="P4M9200" class="n c5"><ellipse cx="2968" cy="258" rx="27.5" ry="8.8"/><text x="2968" y="261">P4M9200</text></g>
<g id="P4M9201" class="n c5"><ellipse cx="3069" cy="258" rx="27.5" ry="8.8"/><text x="3069" y="261">P4M9201</text></g>
<g id="P4M9199" class="n c5"><ellipse cx="3171" cy="258" rx="27.5" ry="8.8"/><text x="3171" y="261">P4M9199</text></g>
<g id="P4M9217" class="n c5"><ellipse cx="3235" cy="258" rx="27.5" ry="8.8"/><text x="3235" y="261">P4M9217</text></g>
<g id="P4M9219" class="n c5"><ellipse cx="3299" cy="258" rx="27.5" ry="8.8"/><text x="3299" y="261">P4M9219</text></g>
<g id="P4M9220" class="n c5"><ellipse cx="3363" cy="258" rx="27.5" ry="8.8"/><text x="3363" y="261">P4M9220</text></g>
<g id="P4M9221" class="n c5"><ellipse cx="3427" cy="258" rx="27.5" ry="8.8"/><text x="3427" y="261">P4M9221</text></g>
<g id="P4M9223" class="n c5"><ellipse cx="3491" cy="258" rx="27.5" ry="8.8"/><text x="3491" y="261">P4M9223</text></g>
<g id="P4M9224" class="n c5"><ellipse cx="3555" cy="258" rx="27.5" ry="8.8"/><text x="3555" y="261">P4M9224</text></g>
<g id="P4M9214" class="n c5"><ellipse cx="3702" cy="258" rx="27.5" ry="8.8"/><text x="3702" y="261">P4M9214</text></g>
<g id="P4M9215" class="n c5"><ellipse cx="3803" cy="258" rx="27.5" ry="8.8"/><text x="3803" y="261">P4M9215</text></g>
<g id="P4M9169" class="n c5"><ellipse cx="445" cy="329" rx="27.5" ry="8.8"/><text x="445" y="332">P4M9169</text></g>
<g id="P4M9171" class="n c5"><ellipse cx="509" cy="329" rx="27.5" ry="8.8"/><text x="509" y="332">P4M9171</text></g>
<g id="P4M9174" class="n c5"><ellipse cx="867" cy="329" rx="27.5" ry="8.8"/><text x="867" y="332">P4M9174</text></g>
<g id="P4M9177" class="n c5"><ellipse cx="931" cy="329" rx="27.5" ry="8.8"/><text x="931" y="332">P4M9177</text></g>
<g id="P4M9176" class="n c5"><ellipse cx="995" cy="329" rx="27.5" ry="8.8"/><text x="995" y="332">P4M9176</text></g>
<g id="P4M9175" class="n c5"><ellipse cx="1059" cy="329" rx="27.5" ry="8.8"/><text x="1059" y="332">P4M9175</text></g>
<g id="P4M9189" class="n c5"><ellipse cx="1750" cy="329" rx="27.5" ry="8.8"/><text x="1750" y="332">P4M9189</text></g>
<g id="P4M9188" class="n c5"><ellipse cx="1972" cy="329" rx="27.5" ry="8.8"/><text x="1972" y="332">P4M9188</text></g>
<g id="P4M9181" class="n c5"><ellipse cx="2036" cy="329" rx="27.5" ry="8.8"/><text x="2036" y="332">P4M9181</text></g>
<g id="P4M9187" class="n c5"><ellipse cx="2118" cy="329" rx="27.5" ry="8.8"/><text x="2118" y="332">P4M9187</text></g>
<g id="P4M9205" class="n c5"><ellipse cx="2875" cy="329" rx="27.5" ry="8.8"/><text x="2875" y="332">P4M9205</text></g>
<g id="P4M9210" class="n c5"><ellipse cx="2957" cy="329" rx="27.5" ry="8.8"/><text x="2957" y="332">P4M9210</text></g>
<g id="P4M9202" class="n c5"><ellipse cx="2626" cy="364" rx="27.5" ry="8.8"/><text x="2626" y="367">P4M9202</text></g>
<g id="P4M9222" class="n c5"><ellipse cx="3683" cy="364" rx="27.5" ry="8.8"/><text x="3683" y="367">P4M9222</text></g>
<g id="P4M9208" class="n c5"><ellipse cx="2588" cy="400" rx="27.5" ry="8.8"/><text x="2588" y="403">P4M9208</text></g>
<g id="P4M9203" class="n c5"><ellipse cx="2875" cy="400" rx="27.5" ry="8.8"/><text x="2875" y="403">P4M9203</text></g>
<g id="P4M9209" class="n c5"><ellipse cx="2671" cy="435" rx="27.5" ry="8.8"/><text x="2671" y="438">P4M9209</text></g>
<g id="P4M9213" class="n c5"><ellipse cx="2581" cy="471" rx="27.5" ry="8.8"/><text x="2581" y="474">P4M9213</text></g>
<g id="P4M9229" class="n c6"><ellipse cx="155" cy="329" rx="27.5" ry="8.8"/><text x="155" y="332">P4M9229</text></g>
<g id="P4M9230" class="n c6"><ellipse cx="279" cy="329" rx="27.5" ry="8.8"/><text x="279" y="332">P4M9230</text></g>
<g id="P4M9225" class="n c6"><ellipse cx="362" cy="329" rx="27.5" ry="8.8"/><text x="362" y="332">P4M9225</text></g>
<g id="P4M9231" class="n c6"><ellipse cx="573" cy="329" rx="27.5" ry="8.8"/><text x="573" y="332">P4M9231</text></g>
<g id="P4M9233" class="n c6"><ellipse cx="656" cy="329" rx="27.5" ry="8.8"/><text x="656" y="332">P4M9233</text></g>
<g id="P4M9234" class="n c6"><ellipse cx="720" cy="329" rx="27.5" ry="8.8"/><text x="720" y="332">P4M9234</text></g>
<g id="P4M9235" class="n c6"><ellipse cx="784" cy="329" rx="27.5" ry="8.8"/><text x="784" y="332">P4M9235</text></g>
<g id="P4M9243" class="n c6"><ellipse cx="1142" cy="329" rx="27.5" ry="8.8"/><text x="1142" y="332">P4M9243</text></g>
<g id="P4M9236" class="n c6"><ellipse cx="1243" cy="329" rx="27.5" ry="8.8"/><text x="1243" y="332">P4M9236</text></g>
<g id="P4M9249" class="n c6"><ellipse cx="1344" cy="329" rx="27.5" ry="8.8"/><text x="1344" y="332">P4M9249</text></g>
<g id="P4M9251" class="n c6"><ellipse cx="1408" cy="329" rx="27.5" ry="8.8"/><text x="1408" y="332">P4M9251</text></g>
<g id="P4M9244" class="n c6"><ellipse cx="1510" cy="329" rx="27.5" ry="8.8"/><text x="1510" y="332">P4M9244</text></g>
<g id="P4M9245" class="n c6"><ellipse cx="1630" cy="329" rx="27.5" ry="8.8"/><text x="1630" y="332">P4M9245</text></g>
<g id="P4M9250" class="n c6"><ellipse cx="1852" cy="329" rx="27.5" ry="8.8"/><text x="1852" y="332">P4M9250</text></g>
<g id="P4M9258" class="n c6"><ellipse cx="2183" cy="329" rx="27.5" ry="8.8"/><text x="2183" y="332">P4M9258</text></g>
<g id="P4M9257" class="n c6"><ellipse cx="2708" cy="329" rx="27.5" ry="8.8"/><text x="2708" y="332">P4M9257</text></g>
<g id="P4M9261" class="n c6"><ellipse cx="2284" cy="329" rx="27.5" ry="8.8"/><text x="2284" y="332">P4M9261</text></g>
<g id="P4M9263" class="n c6"><ellipse cx="2367" cy="329" rx="27.5" ry="8.8"/><text x="2367" y="332">P4M9263</text></g>
<g id="P4M9262" class="n c6"><ellipse cx="2243" cy="294" rx="27.5" ry="8.8"/><text x="2243" y="297">P4M9262</text></g>
<g id="P4M9260" class="n c6"><ellipse cx="2326" cy="294" rx="27.5" ry="8.8"/><text x="2326" y="297">P4M9260</text></g>
<g id="P4M9259" class="n c6"><ellipse cx="2408" cy="294" rx="27.5" ry="8.8"/><text x="2408" y="297">P4M9259</text></g>
<g id="P4M9271" class="n c6"><ellipse cx="3307" cy="294" rx="27.5" ry="8.8"/><text x="3307" y="297">P4M9271</text></g>
<g id="P4M9272" class="n c6"><ellipse cx="3427" cy="294" rx="27.5" ry="8.8"/><text x="3427" y="297">P4M9272</text></g>
<g id="P4M9274" class="n c6"><ellipse cx="3555" cy="294" rx="27.5" ry="8.8"/><text x="3555" y="297">P4M9274</text></g>
<g id="P4M9227" class="n c6"><ellipse cx="385" cy="364" rx="27.5" ry="8.8"/><text x="385" y="367">P4M9227</text></g>
<g id="P4M9226" class="n c6"><ellipse cx="449" cy="364" rx="27.5" ry="8.8"/><text x="449" y="367">P4M9226</text></g>
<g id="P4M9232" class="n c6"><ellipse cx="573" cy="364" rx="27.5" ry="8.8"/><text x="573" y="367">P4M9232</text></g>
<g id="P4M9239" class="n c6"><ellipse cx="931" cy="364" rx="27.5" ry="8.8"/><text x="931" y="367">P4M9239</text></g>
<g id="P4M9238" class="n c6"><ellipse cx="995" cy="364" rx="27.5" ry="8.8"/><text x="995" y="367">P4M9238</text></g>
<g id="P4M9237" class="n c6"><ellipse cx="1059" cy="364" rx="27.5" ry="8.8"/><text x="1059" y="367">P4M9237</text></g>
<g id="P4M9242" class="n c6"><ellipse cx="1123" cy="364" rx="27.5" ry="8.8"/><text x="1123" y="367">P4M9242</text></g>
<g id="P4M9241" class="n c6"><ellipse cx="1187" cy="364" rx="27.5" ry="8.8"/><text x="1187" y="367">P4M9241</text></g>
<g id="P4M9240" class="n c6"><ellipse cx="1290" cy="364" rx="27.5" ry="8.8"/><text x="1290" y="367">P4M9240</text></g>
<g id="P4M9252" class="n c6"><ellipse cx="1395" cy="364" rx="27.5" ry="8.8"/><text x="1395" y="367">P4M9252</text></g>
<g id="P4M9253" class="n c6"><ellipse cx="1544" cy="364" rx="27.5" ry="8.8"/><text x="1544" y="367">P4M9253</text></g>
<g id="P4M9256" class="n c6"><ellipse cx="1635" cy="364" rx="27.5" ry="8.8"/><text x="1635" y="367">P4M9256</text></g>
<g id="P4M9247" class="n c6"><ellipse cx="1699" cy="364" rx="27.5" ry="8.8"/><text x="1699" y="367">P4M9247</text></g>
<g id="P4M9254" class="n c6"><ellipse cx="1763" cy="364" rx="27.5" ry="8.8"/><text x="1763" y="367">P4M9254</text></g>
<g id="P4M9246" class="n c6"><ellipse cx="1827" cy="364" rx="27.5" ry="8.8"/><text x="1827" y="367">P4M9246</text></g>
<g id="P4M9255" class="n c6"><ellipse cx="1891" cy="364" rx="27.5" ry="8.8"/><text x="1891" y="367">P4M9255</text></g>
<g id="P4M9248" class="n c6"><ellipse cx="2036" cy="364" rx="27.5" ry="8.8"/><text x="2036" y="367">P4M9248</text></g>
<g id="P4M9228" class="n c6"><ellipse cx="449" cy="400" rx="27.5" ry="8.8"/><text x="449" y="403">P4M9228</text></g>
<g id="P4M9273" class="n c6"><ellipse cx="3703" cy="400" rx="27.5" ry="8.8"/><text x="3703" y="403">P4M9273</text></g>
<g id="P4M9264" class="n c6"><ellipse cx="2867" cy="435" rx="27.5" ry="8.8"/><text x="2867" y="438">P4M9264</text></g>
<g id="P4M9265" class="n c6"><ellipse cx="2931" cy="435" rx="27.5" ry="8.8"/><text x="2931" y="438">P4M9265</text></g>
<g id="P4M9267" class="n c6"><ellipse cx="3013" cy="435" rx="27.5" ry="8.8"/><text x="3013" y="438">P4M9267</text></g>
<g id="P4M9266" class="n c6"><ellipse cx="3096" cy="435" rx="27.5" ry="8.8"/><text x="3096" y="438">P4M9266</text></g>
<g id="P4M9268" class="n c6"><ellipse cx="2867" cy="471" rx="27.5" ry="8.8"/><text x="2867" y="474">P4M9268</text></g>
<g id="P4M9269" class="n c6"><ellipse cx="3043" cy="471" rx="27.5" ry="8.8"/><text x="3043" y="474">P4M9269</text></g>
<g id="P4M9270" class="n c6"><ellipse cx="3107" cy="471" rx="27.5" ry="8.8"/><text x="3107" y="474">P4M9270</text></g>
<g id="P4M9278" class="n c7"><ellipse cx="155" cy="364" rx="27.5" ry="8.8"/><text x="155" y="367">P4M9278</text></g>
<g id="P4M9281" class="n c7"><ellipse cx="238" cy="364" rx="27.5" ry="8.8"/><text x="238" y="367">P4M9281</text></g>
<g id="P4M9275" class="n c7"><ellipse cx="321" cy="364" rx="27.5" ry="8.8"/><text x="321" y="367">P4M9275</text></g>
<g id="P4M9282" class="n c7"><ellipse cx="637" cy="364" rx="27.5" ry="8.8"/><text x="637" y="367">P4M9282</text></g>
<g id="P4M9302" class="n c7"><ellipse cx="2284" cy="364" rx="27.5" ry="8.8"/><text x="2284" y="367">P4M9302</text></g>
<g id="P4M9299" class="n c7"><ellipse cx="2348" cy="364" rx="27.5" ry="8.8"/><text x="2348" y="367">P4M9299</text></g>
<g id="P4M9297" class="n c7"><ellipse cx="2708" cy="364" rx="27.5" ry="8.8"/><text x="2708" y="367">P4M9297</text></g>
<g id="P4M9298" class="n c7"><ellipse cx="2772" cy="364" rx="27.5" ry="8.8"/><text x="2772" y="367">P4M9298</text></g>
<g id="P4M9300" class="n c7"><ellipse cx="2837" cy="364" rx="27.5" ry="8.8"/><text x="2837" y="367">P4M9300</text></g>
<g id="P4M9301" class="n c7"><ellipse cx="2449" cy="329" rx="27.5" ry="8.8"/><text x="2449" y="332">P4M9301</text></g>
<g id="P4M9277" class="n c7"><ellipse cx="71" cy="400" rx="27.5" ry="8.8"/><text x="71" y="403">P4M9277</text></g>
<g id="P4M9279" class="n c7"><ellipse cx="135" cy="400" rx="27.5" ry="8.8"/><text x="135" y="403">P4M9279</text></g>
<g id="P4M9280" class="n c7"><ellipse cx="217" cy="400" rx="27.5" ry="8.8"/><text x="217" y="403">P4M9280</text></g>
<g id="P4M9276" class="n c7"><ellipse cx="346" cy="400" rx="27.5" ry="8.8"/><text x="346" y="403">P4M9276</text></g>
<g id="P4M9283" class="n c7"><ellipse cx="637" cy="400" rx="27.5" ry="8.8"/><text x="637" y="403">P4M9283</text></g>
<g id="P4M9284" class="n c7"><ellipse cx="784" cy="400" rx="27.5" ry="8.8"/><text x="784" y="403">P4M9284</text></g>
<g id="P4M9285" class="n c7"><ellipse cx="869" cy="400" rx="27.5" ry="8.8"/><text x="869" y="403">P4M9285</text></g>
<g id="P4M9288" class="n c7"><ellipse cx="1096" cy="400" rx="27.5" ry="8.8"/><text x="1096" y="403">P4M9288</text></g>
<g id="P4M9287" class="n c7"><ellipse cx="1160" cy="400" rx="27.5" ry="8.8"/><text x="1160" y="403">P4M9287</text></g>
<g id="P4M9286" class="n c7"><ellipse cx="1224" cy="400" rx="27.5" ry="8.8"/><text x="1224" y="403">P4M9286</text></g>
<g id="P4M9289" class="n c7"><ellipse cx="1290" cy="400" rx="27.5" ry="8.8"/><text x="1290" y="403">P4M9289</text></g>
<g id="P4M9290" class="n c7"><ellipse cx="1438" cy="400" rx="27.5" ry="8.8"/><text x="1438" y="403">P4M9290</text></g>
<g id="P4M9294" class="n c7"><ellipse cx="1502" cy="400" rx="27.5" ry="8.8"/><text x="1502" y="403">P4M9294</text></g>
<g id="P4M9291" class="n c7"><ellipse cx="1635" cy="400" rx="27.5" ry="8.8"/><text x="1635" y="403">P4M9291</text></g>
<g id="P4M9296" class="n c7"><ellipse cx="1699" cy="400" rx="27.5" ry="8.8"/><text x="1699" y="403">P4M9296</text></g>
<g id="P4M9293" class="n c7"><ellipse cx="1763" cy="400" rx="27.5" ry="8.8"/><text x="1763" y="403">P4M9293</text></g>
<g id="P4M9292" class="n c7"><ellipse cx="1827" cy="400" rx="27.5" ry="8.8"/><text x="1827" y="403">P4M9292</text></g>
<g id="P4M9304" class="n c7"><ellipse cx="2274" cy="400" rx="27.5" ry="8.8"/><text x="2274" y="403">P4M9304</text></g>
<g id="P4M9303" class="n c7"><ellipse cx="2358" cy="400" rx="27.5" ry="8.8"/><text x="2358" y="403">P4M9303</text></g>
<g id="P4M9295" class="n c7"><ellipse cx="1470" cy="435" rx="27.5" ry="8.8"/><text x="1470" y="438">P4M9295</text></g>
<g id="P4M9305" class="n c7"><ellipse cx="3724" cy="435" rx="27.5" ry="8.8"/><text x="3724" y="438">P4M9305</text></g>
<g id="P4M9306" class="n c7"><ellipse cx="3703" cy="471" rx="27.5" ry="8.8"/><text x="3703" y="474">P4M9306</text></g>
<g id="P4M9312" class="n c8"><ellipse cx="282" cy="400" rx="27.5" ry="8.8"/><text x="282" y="403">P4M9312</text></g>
<g id="P4M9307" class="n c8"><ellipse cx="29" cy="435" rx="27.5" ry="8.8"/><text x="29" y="438">P4M9307</text></g>
<g id="P4M9308" class="n c8"><ellipse cx="93" cy="435" rx="27.5" ry="8.8"/><text x="93" y="438">P4M9308</text></g>
<g id="P4M9309" class="n c8"><ellipse cx="176" cy="435" rx="27.5" ry="8.8"/><text x="176" y="438">P4M9309</text></g>
<g id="P4M9310" class="n c8"><ellipse cx="240" cy="435" rx="27.5" ry="8.8"/><text x="240" y="438">P4M9310</text></g>
<g id="P4M9311" class="n c8"><ellipse cx="176" cy="471" rx="27.5" ry="8.8"/><text x="176" y="474">P4M9311</text></g>
<g id="P4M9313" class="n c8"><ellipse cx="869" cy="435" rx="27.5" ry="8.8"/><text x="869" y="438">P4M9313</text></g>
<g id="P4M9314" class="n c8"><ellipse cx="1224" cy="471" rx="27.5" ry="8.8"/><text x="1224" y="474">P4M9314</text></g>
<g id="P4M9315" class="n c8"><ellipse cx="1699" cy="471" rx="27.5" ry="8.8"/><text x="1699" y="474">P4M9315</text></g>
<g id="P4M9316" class="n c8"><ellipse cx="2746" cy="400" rx="27.5" ry="8.8"/><text x="2746" y="403">P4M9316</text></g>
<g id="P4M9317" class="n c8"><ellipse cx="2739" cy="435" rx="27.5" ry="8.8"/><text x="2739" y="438">P4M9317</text></g>
<g id="P4M9318" class="n c9"><ellipse cx="93" cy="506" rx="27.5" ry="8.8"/><text x="93" y="509">P4M9318</text></g>
<g id="P4M9319" class="n c9"><ellipse cx="208" cy="506" rx="27.5" ry="8.8"/><text x="208" y="509">P4M9319</text></g>
<g id="P4M9320" class="n c9"><ellipse cx="532" cy="435" rx="27.5" ry="8.8"/><text x="532" y="438">P4M9320</text></g>
<g id="P4M9321" class="n c10"><ellipse cx="532" cy="471" rx="27.5" ry="8.8"/><text x="532" y="474">P4M9321</text></g>
</svg>
